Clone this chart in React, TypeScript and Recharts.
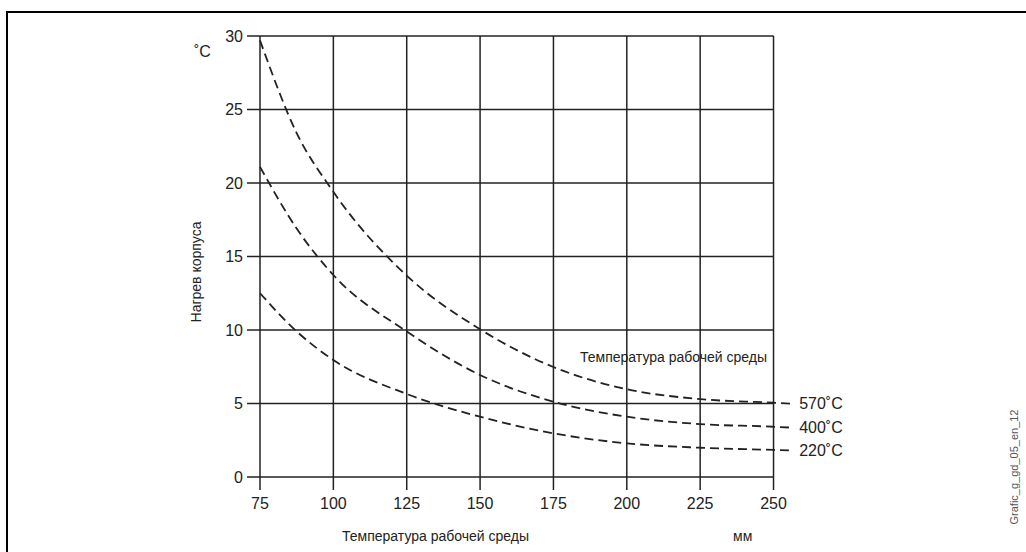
import { LineChart, Line, XAxis, YAxis, ReferenceLine, LabelList } from "recharts"

// wall thickness, mm
const thickness = [75, 87.5, 100, 125, 150, 175, 200, 225, 250, 256]
// housing heating, °C, per working medium temperature
const heat570 = [29.7, 23.4, 19.4, 13.7, 10.05, 7.48, 5.97, 5.3, 5.05, 4.98]
const heat400 = [21.1, 16.9, 13.74, 9.9, 6.94, 5.12, 4.1, 3.6, 3.42, 3.36]
const heat220 = [12.5, 9.9, 7.96, 5.65, 4.1, 2.97, 2.29, 1.99, 1.84, 1.8]

const seriesNames = ["570˚C", "400˚C", "220˚C"]
const xTicks = [75, 100, 125, 150, 175, 200, 225, 250]
const yTicks = [0, 5, 10, 15, 20, 25, 30]

const data = thickness.map((x, i) => ({
  x,
  t570: heat570[i],
  t400: heat400[i],
  t220: heat220[i],
}))

const FONT = "'Liberation Sans', Arial, sans-serif"
const INK = "#222"

const endLabel = (name: string, lastIndex: number) => (props: any) => {
  if (props.index !== lastIndex) return null
  return (
    <text x={props.x + 8} y={props.y} dy="0.35em" fontSize={16} fontFamily={FONT} fill={INK}>
      {name}
    </text>
  )
}

export default function App() {
  const last = thickness.length - 1
  return (
    <div style={{ position: "absolute", left: 0, top: 0, width: 1026, height: 552, background: "#fff", overflow: "hidden" }}>
      <div
        style={{
          position: "absolute",
          left: 6,
          top: 11,
          width: 1030,
          height: 560,
          borderTop: "2.5px solid #000",
          borderLeft: "2.5px solid #000",
          boxSizing: "border-box",
        }}
      />
      <LineChart
        width={1026}
        height={552}
        data={data}
        margin={{ top: 36, right: 229, left: 200, bottom: 35 }}
        style={{ position: "absolute", left: 0, top: 0 }}
      >
        {xTicks.map((v) => (
          <ReferenceLine
            key={"v" + v}
            segment={[
              { x: v, y: 0 },
              { x: v, y: 30 },
            ]}
            stroke={INK}
            strokeWidth={1.5}
          />
        ))}
        {yTicks.map((v) => (
          <ReferenceLine
            key={"h" + v}
            segment={[
              { x: 75, y: v },
              { x: 250, y: v },
            ]}
            stroke={INK}
            strokeWidth={1.5}
          />
        ))}
        <XAxis
          dataKey="x"
          type="number"
          domain={[75, 258]}
          ticks={xTicks}
          axisLine={false}
          tickSize={13}
          tickMargin={8}
          height={40}
          tickLine={{ stroke: INK, strokeWidth: 1.5 }}
          tick={{ fontSize: 16, fontFamily: FONT, fill: INK }}
        />
        <YAxis
          type="number"
          domain={[0, 30]}
          ticks={yTicks}
          axisLine={false}
          width={60}
          tickSize={13}
          tickMargin={4}
          tickLine={{ stroke: INK, strokeWidth: 1.5 }}
          tick={{ fontSize: 16, fontFamily: FONT, fill: INK }}
        />
        <Line dataKey="t570" type="monotone" stroke={INK} strokeWidth={1.8} strokeDasharray="9 5" dot={false} isAnimationActive={false}>
          <LabelList content={endLabel(seriesNames[0], last)} />
        </Line>
        <Line dataKey="t400" type="monotone" stroke={INK} strokeWidth={1.8} strokeDasharray="9 5" dot={false} isAnimationActive={false}>
          <LabelList content={endLabel(seriesNames[1], last)} />
        </Line>
        <Line dataKey="t220" type="monotone" stroke={INK} strokeWidth={1.8} strokeDasharray="9 5" dot={false} isAnimationActive={false}>
          <LabelList content={endLabel(seriesNames[2], last)} />
        </Line>
      </LineChart>
      <div style={{ position: "absolute", left: 580, top: 349, fontSize: 14, fontFamily: FONT, color: INK, whiteSpace: "nowrap" }}>
        Температура рабочей среды
      </div>
      <div style={{ position: "absolute", left: 194, top: 43, fontSize: 16, fontFamily: FONT, color: INK }}>˚C</div>
      <div
        style={{
          position: "absolute",
          left: 196,
          top: 272,
          fontSize: 14,
          fontFamily: FONT,
          color: INK,
          whiteSpace: "nowrap",
          transform: "translate(-50%, -50%) rotate(-90deg)",
        }}
      >
        Нагрев корпуса
      </div>
      <div style={{ position: "absolute", left: 342, top: 528, fontSize: 14, fontFamily: FONT, color: INK, whiteSpace: "nowrap" }}>
        Температура рабочей среды
      </div>
      <div style={{ position: "absolute", left: 733, top: 528, fontSize: 14, fontFamily: FONT, color: INK }}>мм</div>
      <div
        style={{
          position: "absolute",
          left: 1014,
          top: 467,
          fontSize: 11,
          fontFamily: FONT,
          color: "#555",
          whiteSpace: "nowrap",
          transform: "translate(-50%, -50%) rotate(-90deg)",
        }}
      >
        Grafic_g_gd_05_en_12
      </div>
    </div>
  )
}
